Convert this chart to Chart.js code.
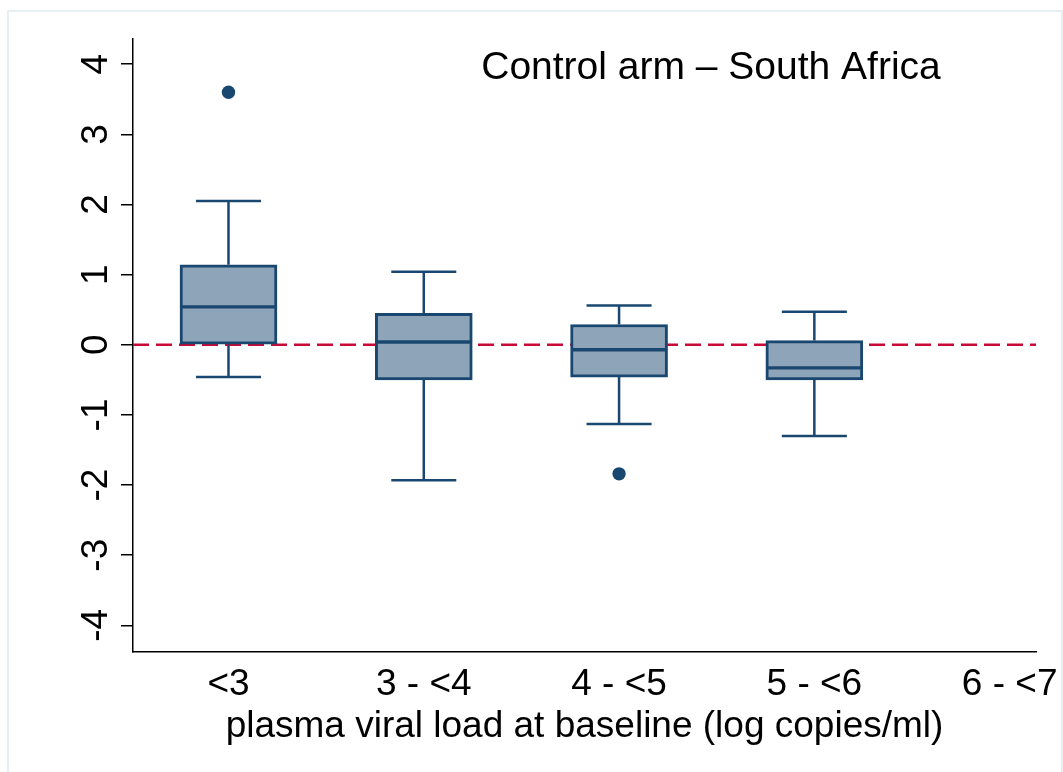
<!DOCTYPE html>
<html>
<head>
<meta charset="utf-8">
<script src="https://cdn.jsdelivr.net/npm/chart.js@4.4.1/dist/chart.umd.min.js"></script>
<style>
  html, body { margin: 0; padding: 0; background: #fff; }
  #wrap { width: 1063px; height: 772px; position: relative; }
</style>
</head>
<body>
<div id="wrap"><canvas id="boxChart"></canvas></div>
<script>
// values
const categories = ["<3", "3 - <4", "4 - <5", "5 - <6", "6 - <7"];
const whiskerLow = [-0.46, -1.93, -1.13, -1.30, null];
const q1 = [0.00, -0.50, -0.46, -0.50, null];
const median = [0.54, 0.04, -0.07, -0.33, null];
const q3 = [1.14, 0.45, 0.29, 0.06, null];
const whiskerHigh = [2.05, 1.04, 0.56, 0.47, null];
const outlierGroup = [0, 2];
const outlierValue = [3.60, -1.84];
const yTicks = [-4, -3, -2, -1, 0, 1, 2, 3, 4];
const refLineValue = 0;

const titleText = "Control arm \u2013 South Africa";
const xTitle = "plasma viral load at baseline (log copies/ml)";

const NAVY = "#1A476F";
const BOX_FILL = "#8EA4B8";
const RED = "#C80A37";
const X_MIN = -0.489, X_MAX = 4.135;
const CAP_HALF = 0.1665;

Chart.defaults.font.family = '"Liberation Sans", Arial, sans-serif';
Chart.defaults.color = "#000";

// whiskers + caps as broken line segments
const whiskerPts = [];
categories.forEach((c, i) => {
    if (q1[i] === null) return;
    whiskerPts.push({ x: i, y: q3[i] }, { x: i, y: whiskerHigh[i] }, { x: i, y: null });
    whiskerPts.push({ x: i, y: q1[i] }, { x: i, y: whiskerLow[i] }, { x: i, y: null });
    whiskerPts.push({ x: i - CAP_HALF, y: whiskerHigh[i] }, { x: i + CAP_HALF, y: whiskerHigh[i] }, { x: i, y: null });
    whiskerPts.push({ x: i - CAP_HALF, y: whiskerLow[i] }, { x: i + CAP_HALF, y: whiskerLow[i] }, { x: i, y: null });
});

const lowerHalf = [], upperHalf = [];
categories.forEach((c, i) => {
    if (q1[i] === null) return;
    lowerHalf.push({ x: i, y: [q1[i], median[i]] });
    upperHalf.push({ x: i, y: [median[i], q3[i]] });
});

const outliers = outlierGroup.map((g, k) => ({ x: g, y: outlierValue[k] }));

const framePlugin = {
    id: "frame",
    beforeDraw(chart) {
        const ctx = chart.ctx;
        ctx.save();
        ctx.fillStyle = "#fff";
        ctx.fillRect(0, 0, chart.width, chart.height);
        ctx.strokeStyle = "#E6EEF1";
        ctx.lineWidth = 2;
        ctx.strokeRect(8, 11, 1054, 800);
        ctx.restore();
    }
};

const insideTitle = {
    id: "insideTitle",
    afterDraw(chart) {
        const ctx = chart.ctx;
        ctx.save();
        ctx.font = '39px "Liberation Sans", Arial, sans-serif';
        ctx.fillStyle = "#000";
        ctx.textAlign = "center";
        ctx.textBaseline = "alphabetic";
        ctx.fillText(titleText, 711, 79);
        ctx.restore();
    }
};

new Chart(document.getElementById("boxChart"), {
    data: {
        datasets: [
            {
                type: "line",
                data: [{ x: X_MIN, y: refLineValue }, { x: X_MAX, y: refLineValue }],
                borderColor: RED,
                borderWidth: 2.5,
                borderDash: [16, 7],
                pointRadius: 0,
                order: 10
            },
            {
                type: "line",
                data: whiskerPts,
                borderColor: NAVY,
                borderWidth: 2.5,
                borderCapStyle: "butt",
                pointRadius: 0,
                spanGaps: false,
                order: 6
            },
            {
                type: "bar",
                data: lowerHalf,
                backgroundColor: BOX_FILL,
                borderColor: NAVY,
                borderWidth: { top: 2, bottom: 3, left: 3, right: 3 },
                borderSkipped: false,
                barThickness: 97,
                grouped: false,
                order: 5
            },
            {
                type: "bar",
                data: upperHalf,
                backgroundColor: BOX_FILL,
                borderColor: NAVY,
                borderWidth: { top: 3, bottom: 2, left: 3, right: 3 },
                borderSkipped: false,
                barThickness: 97,
                grouped: false,
                order: 5
            },
            {
                type: "scatter",
                data: outliers,
                pointRadius: 6.7,
                pointBackgroundColor: NAVY,
                pointBorderWidth: 0,
                order: 1
            }
        ]
    },
    options: {
        responsive: true,
        maintainAspectRatio: false,
        animation: false,
        layout: { padding: { left: 0, top: 39, right: 27, bottom: 0 } },
        plugins: {
            legend: { display: false },
            tooltip: { enabled: false }
        },
        scales: {
            x: {
                type: "linear",
                offset: false,
                min: X_MIN,
                max: X_MAX,
                afterBuildTicks: scale => { scale.ticks = categories.map((c, i) => ({ value: i })); },
                afterFit: scale => { scale.height = 120; scale.paddingLeft = 0; scale.paddingRight = 0; },
                ticks: {
                    callback: v => categories[v],
                    font: { size: 37 },
                    padding: 11,
                    maxRotation: 0,
                    autoSkip: false
                },
                grid: { display: false, drawTicks: false },
                border: { display: true, color: "#000", width: 1.5 },
                title: {
                    display: true,
                    text: xTitle,
                    font: { size: 37 },
                    padding: { top: 0, bottom: 23 }
                }
            },
            y: {
                type: "linear",
                min: -4.38,
                max: 4.36,
                afterBuildTicks: scale => { scale.ticks = yTicks.map(v => ({ value: v })); },
                afterFit: scale => { scale.width = 133; scale.paddingTop = 0; scale.paddingBottom = 0; },
                ticks: {
                    callback: v => String(v),
                    font: { size: 37 },
                    minRotation: 90,
                    maxRotation: 90,
                    crossAlign: "center",
                    padding: 8,
                    autoSkip: false
                },
                grid: {
                    drawOnChartArea: false,
                    drawTicks: true,
                    tickLength: 12,
                    tickColor: "#000",
                    lineWidth: 1.5
                },
                border: { display: true, color: "#000", width: 1.5 }
            }
        }
    },
    plugins: [framePlugin, insideTitle]
});
</script>
</body>
</html>
